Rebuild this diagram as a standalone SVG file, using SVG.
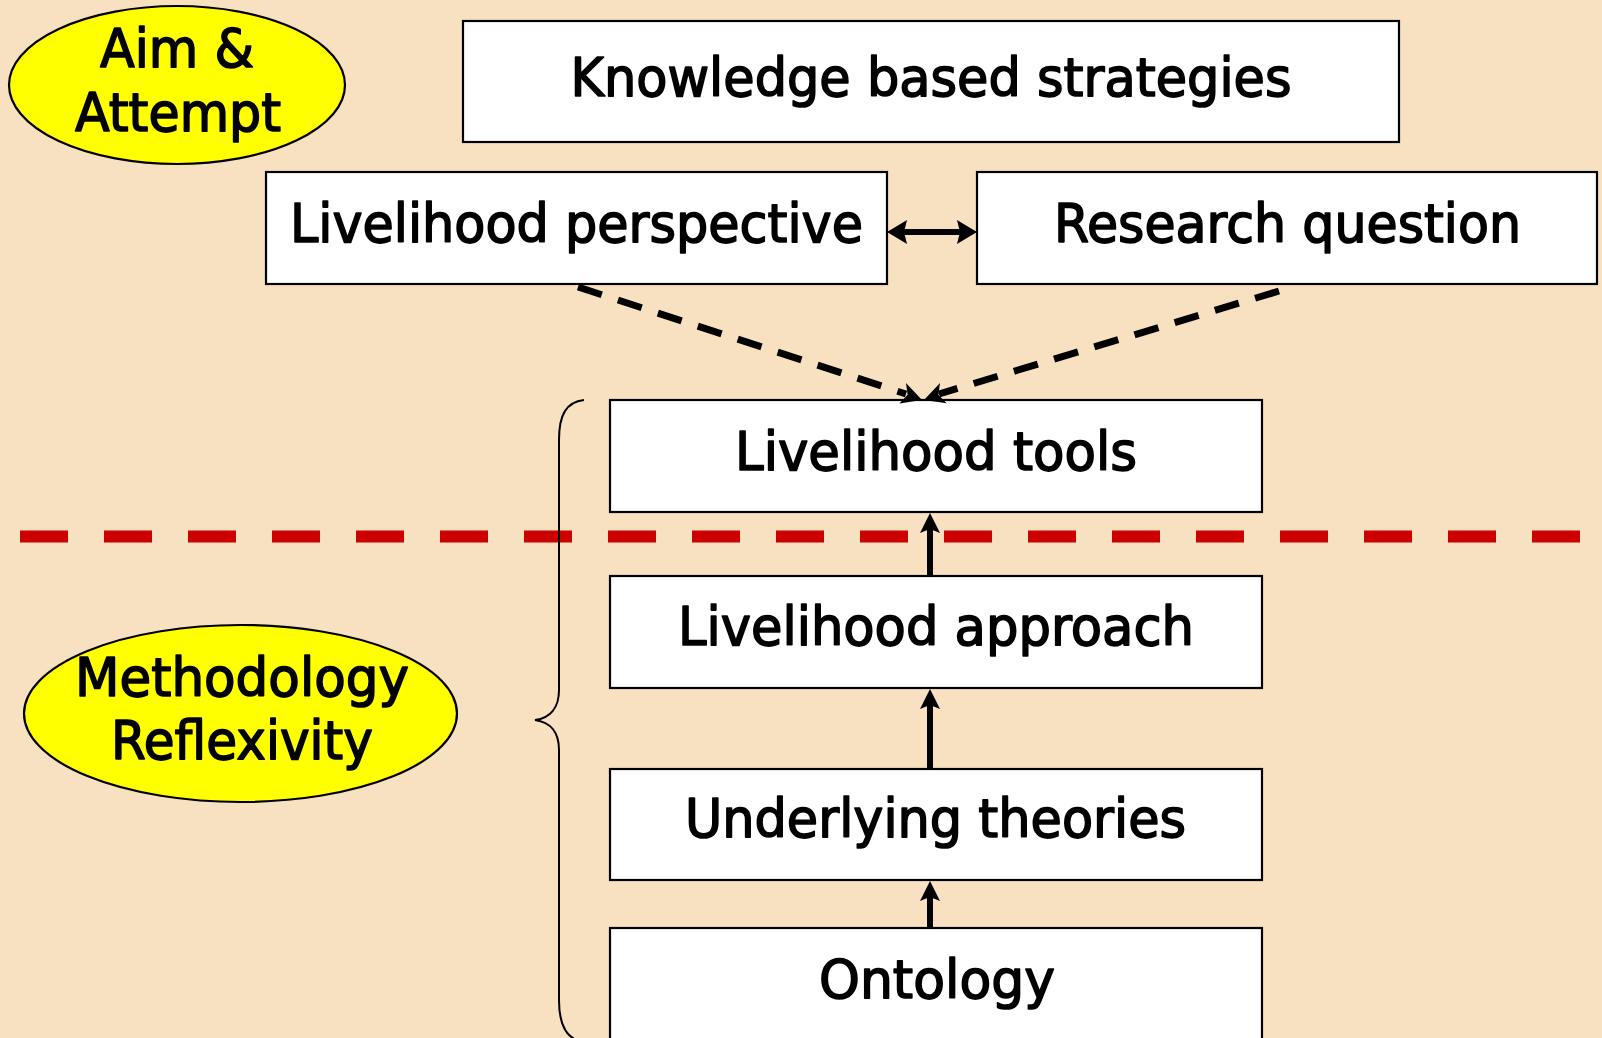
<svg xmlns="http://www.w3.org/2000/svg" width="1602" height="1038" viewBox="0 0 1602 1038">
<style>
.box{fill:#fff;stroke:#000;stroke-width:2.2}
.ell{fill:#ffff00;stroke:#000;stroke-width:2.2}
.t{font-family:"DejaVu Sans","Noto Sans",sans-serif;font-size:53px;fill:#000;stroke:#000;stroke-width:1.6;stroke-linejoin:round;text-anchor:middle}
.arr{stroke:#000;stroke-width:6;fill:none}
.dash{stroke:#000;stroke-width:7;fill:none;stroke-dasharray:25 17}
.head{fill:#000;stroke:none}
</style>
<rect width="1602" height="1038" fill="#f8e1c1"/>
<g id="aim">
<ellipse class="ell" cx="177" cy="85" rx="168" ry="79"/>
<text class="t" x="177" y="67" textLength="154" lengthAdjust="spacingAndGlyphs">Aim &amp;</text>
<text class="t" x="178" y="131" textLength="206" lengthAdjust="spacingAndGlyphs">Attempt</text>
</g>
<g id="methodology">
<ellipse class="ell" cx="240.5" cy="713.5" rx="216.5" ry="88.5"/>
<text class="t" x="242" y="696" textLength="334" lengthAdjust="spacingAndGlyphs">Methodology</text>
<text class="t" x="242" y="759" textLength="262" lengthAdjust="spacingAndGlyphs">Reflexivity</text>
</g>
<g id="knowledge">
<rect class="box" x="463" y="21" width="936" height="121"/>
<text class="t" x="931" y="96" textLength="721" lengthAdjust="spacingAndGlyphs">Knowledge based strategies</text>
</g>
<g id="perspective">
<rect class="box" x="266" y="172" width="621" height="112"/>
<text class="t" x="576.5" y="242" textLength="573" lengthAdjust="spacingAndGlyphs">Livelihood perspective</text>
</g>
<g id="question">
<rect class="box" x="977" y="172" width="620" height="112"/>
<text class="t" x="1287.5" y="242" textLength="467" lengthAdjust="spacingAndGlyphs">Research question</text>
</g>
<g id="tools">
<rect class="box" x="610" y="400" width="652" height="112"/>
<text class="t" x="936" y="470" textLength="402" lengthAdjust="spacingAndGlyphs">Livelihood tools</text>
</g>
<g id="approach">
<rect class="box" x="610" y="576" width="652" height="112"/>
<text class="t" x="936" y="645" textLength="516" lengthAdjust="spacingAndGlyphs">Livelihood approach</text>
</g>
<g id="theories">
<rect class="box" x="610" y="769" width="652" height="111"/>
<text class="t" x="935.5" y="837" textLength="501" lengthAdjust="spacingAndGlyphs">Underlying theories</text>
</g>
<g id="ontology">
<rect class="box" x="610" y="928" width="652" height="130"/>
<text class="t" x="937" y="998" textLength="236" lengthAdjust="spacingAndGlyphs">Ontology</text>
</g>
<g id="divider">
<line x1="20" y1="536.5" x2="1602" y2="536.5" stroke="#cc0000" stroke-width="12" stroke-dasharray="48 36"/>
</g>
<g id="brace">
<path d="M584,400 C566,402 559,415 559,440 L559,690 C559,708 550,718 535,720 C550,722 559,732 559,750 L559,1000 C559,1025 566,1040 584,1042" fill="none" stroke="#000" stroke-width="2"/>
</g>
<g id="connectors">
<line class="arr" x1="903" y1="232" x2="961" y2="232"/>
<polygon class="head" points="887,232 907,220 904,232 907,244"/>
<polygon class="head" points="977,232 957,220 960,232 957,244"/>
<line class="dash" x1="578" y1="287" x2="906" y2="394"/>
<polygon class="head" points="922,400 899.4,403.5 907.6,394.8 906,383"/>
<line class="dash" x1="1279" y1="291" x2="939" y2="394"/>
<polygon class="head" points="924,400 940,383 938.4,395 946.7,403.3"/>
<line class="arr" x1="930" y1="576" x2="930" y2="528"/>
<polygon class="head" points="930,513 940,533 930,529 920,533"/>
<line class="arr" x1="930" y1="769" x2="930" y2="704"/>
<polygon class="head" points="930,689 940,709 930,705 920,709"/>
<line class="arr" x1="930" y1="928" x2="930" y2="896"/>
<polygon class="head" points="930,881 940,901 930,897 920,901"/>
</g>
</svg>
